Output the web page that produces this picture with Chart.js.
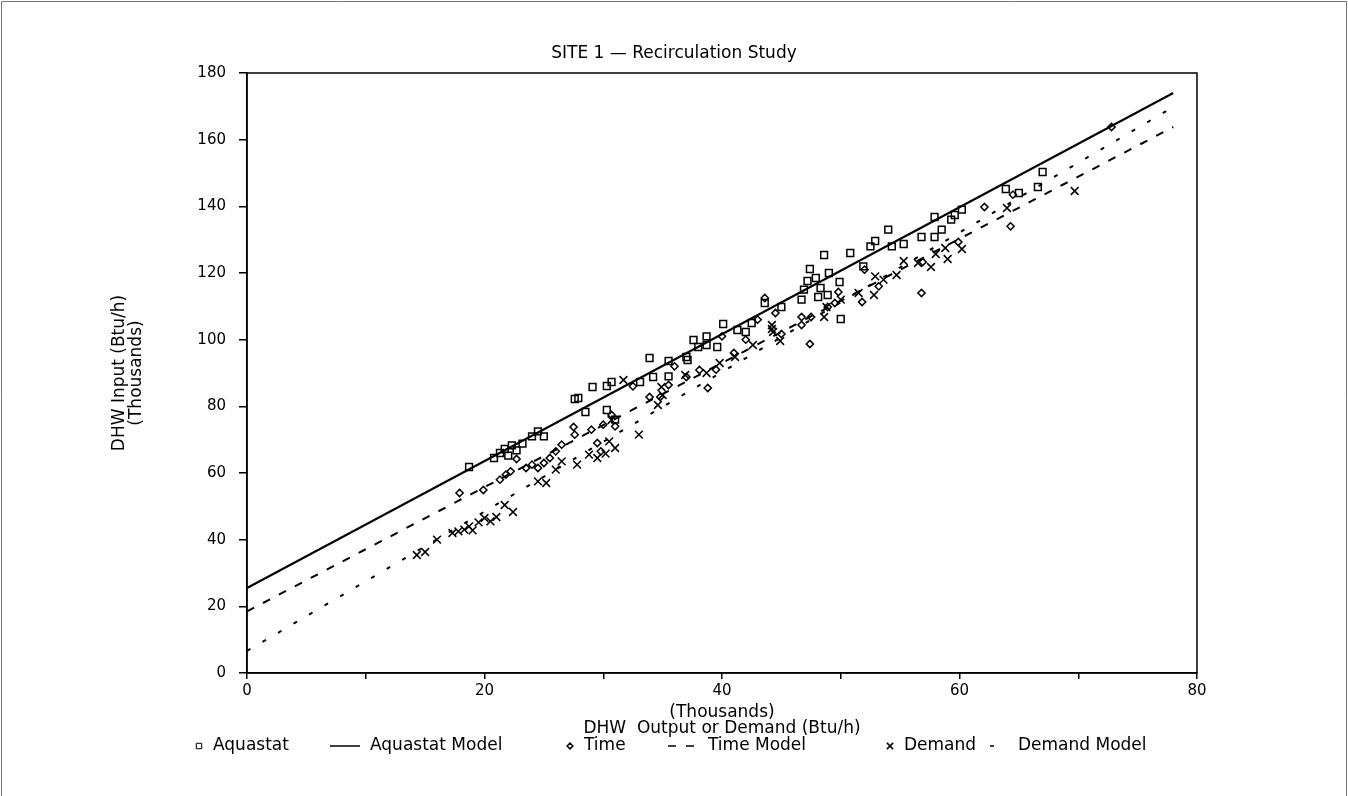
<!DOCTYPE html>
<html>
<head>
<meta charset="utf-8">
<script src="https://cdn.jsdelivr.net/npm/chart.js@4"></script>
<style>
  body { margin: 0; background: #fff; }
  #wrap { width: 1348px; height: 796px; }
</style>
</head>
<body>
<div id="wrap"><canvas id="site-chart" width="1348" height="796"></canvas></div>
<script>
// values, in thousands of Btu/h
const aquastatX = [18.7, 20.8, 21.3, 21.7, 22.0, 22.3, 22.7, 23.2, 24.0, 24.5, 25.0,
  27.6, 27.9, 29.1, 30.3, 30.7, 28.5, 30.3, 31.0,
  33.1, 33.9, 34.2, 35.5, 35.5, 37.0, 37.1, 37.6, 38.0, 38.7, 38.7, 39.6, 40.1, 41.3, 42.0, 42.5, 43.6, 45.0,
  46.7, 46.9, 47.2, 47.4, 47.9, 48.1, 48.3, 48.6, 48.9, 49.0, 49.9, 50.0,
  50.8, 51.9, 52.5, 52.9, 54.0, 54.3, 55.3, 56.8, 57.9, 57.9, 58.5, 59.3, 59.6, 60.2, 63.9, 65.0, 66.6, 67.0]
const aquastatY = [61.8, 64.5, 66.0, 67.2, 65.2, 68.3, 66.8, 68.8, 71.0, 72.5, 71.0,
  82.2, 82.5, 85.8, 86.1, 87.3, 78.3, 78.9, 76.0,
  87.3, 94.5, 88.8, 93.6, 89.0, 94.8, 93.9, 99.9, 97.8, 101.0, 98.4, 97.8, 104.7, 102.9, 102.3, 105.0, 111.0, 109.8,
  112.0, 115.0, 117.6, 121.2, 118.5, 112.8, 115.5, 125.4, 113.4, 120.0, 117.3, 106.2,
  126.0, 122.0, 128.0, 129.6, 133.0, 128.0, 128.7, 130.8, 130.8, 136.8, 133.0, 136.0, 137.4, 139.0, 145.2, 144.0, 145.8, 150.3]

const timeX = [17.9, 19.9, 21.3, 21.8, 22.2, 22.7, 23.5, 24.0, 24.5, 25.0, 25.5, 26.0, 26.5, 27.5, 27.6, 29.0, 29.5, 30.0, 30.7, 31.0, 29.8,
  32.5, 33.9, 34.8, 35.5, 36.0, 37.0, 38.1, 38.8, 39.5, 40.0, 41.0, 42.0, 43.0, 43.6, 44.5,
  45.0, 46.7, 46.7, 47.4, 47.5, 48.9, 49.5, 49.8, 51.8, 53.2, 52.0, 56.8, 56.9, 59.9, 62.1, 64.3, 64.5, 72.8]
const timeY = [54.0, 54.9, 58.0, 59.5, 60.5, 64.2, 61.5, 62.5, 61.5, 63.0, 64.5, 66.5, 68.5, 73.8, 71.5, 73.0, 69.0, 74.5, 77.4, 74.0, 66.5,
  86.0, 82.8, 82.8, 86.4, 92.0, 88.8, 90.9, 85.5, 91.0, 101.0, 96.0, 100.0, 106.0, 112.5, 108.0,
  101.7, 104.4, 106.8, 98.7, 106.8, 109.8, 111.0, 114.3, 111.3, 116.0, 121.0, 114.0, 123.3, 129.3, 139.8, 134.0, 143.5, 163.8]

const demandX = [14.3, 15.0, 16.0, 17.3, 17.8, 18.3, 18.7, 19.0, 19.5, 20.0, 20.5, 21.0, 21.7, 22.4,
  24.5, 25.2, 26.0, 26.5, 27.8, 28.8, 29.5, 30.2, 30.5, 31.0, 33.0, 30.7, 31.7, 34.6, 34.9, 35.0, 36.9, 38.7, 39.8, 41.1, 42.6, 44.2, 44.3, 44.9, 44.2,
  48.6, 48.8, 50.0, 51.5, 52.8, 52.9, 53.6, 54.7, 55.3, 56.5, 57.6, 58.0, 58.8, 59.0, 60.2, 64.0, 69.7]
const demandY = [35.4, 36.3, 40.0, 42.0, 42.5, 43.0, 44.0, 42.8, 45.2, 46.5, 45.5, 46.8, 50.4, 48.3,
  57.5, 57.0, 61.0, 63.5, 62.5, 65.5, 64.5, 65.8, 69.5, 67.5, 71.5, 75.9, 87.9, 80.4, 85.8, 83.4, 89.4, 90.0, 93.0, 94.8, 98.4, 104.4, 102.3, 99.6, 103.2,
  106.8, 109.8, 112.0, 114.0, 113.4, 119.0, 118.0, 119.4, 123.6, 123.0, 121.8, 125.7, 127.5, 124.2, 127.2, 139.5, 144.6]

// fitted model lines, end points
const modelX = [0, 78]
const aquastatModelY = [25.5, 174]
const timeModelY = [18.5, 163.8]
const demandModelY = [6.6, 169.8]

const xTicks = [0, 20, 40, 60, 80]
const yTicks = [0, 20, 40, 60, 80, 100, 120, 140, 160, 180]

const FONT = "'DejaVu Sans', sans-serif"

function toPoints(xs, ys) {
  return xs.map((x, i) => ({ x: x, y: ys[i] }))
}

// where each legend entry starts along the bottom row
const legendStarts = [195, 330, 566, 668, 886, 990]

// draws title, box round the plot, legend, and the page frame
const extrasPlugin = {
  id: 'extras',
  afterDraw(chart) {
    const ctx = chart.ctx
    const a = chart.chartArea
    ctx.save()
    ctx.strokeStyle = '#000'
    ctx.lineWidth = 1.5
    ctx.strokeRect(a.left, a.top, a.right - a.left, a.bottom - a.top)

    ctx.strokeStyle = '#777'
    ctx.lineWidth = 1
    ctx.beginPath()
    ctx.moveTo(1.5, chart.height)
    ctx.lineTo(1.5, 1.5)
    ctx.lineTo(chart.width - 1.5, 1.5)
    ctx.lineTo(chart.width - 1.5, chart.height)
    ctx.stroke()

    ctx.fillStyle = '#000'
    ctx.font = '17px ' + FONT
    ctx.textAlign = 'center'
    ctx.textBaseline = 'middle'
    ctx.fillText('SITE 1 \u2014 Recirculation Study', chart.width / 2, 54)

    // legend row
    const y = 746
    ctx.textAlign = 'left'
    chart.data.datasets.forEach((ds, i) => {
      let x = legendStarts[i]
      ctx.strokeStyle = '#000'
      if (ds.showLine) {
        ctx.lineWidth = 1.5
        ctx.setLineDash(ds.borderDash || [])
        const w = ds.borderDash && ds.borderDash[0] < 6 ? 6 : 30
        ctx.beginPath()
        ctx.moveTo(x, y)
        ctx.lineTo(x + w, y)
        ctx.stroke()
        ctx.setLineDash([])
        x += w + (w < 10 ? 22 : 10)
      } else {
        ctx.fillStyle = 'rgba(0,0,0,0)'
        Chart.helpers.drawPoint(ctx, {
          pointStyle: ds.pointStyle, radius: ds.pointRadius * 0.8, borderWidth: 1.2
        }, x + 4, y)
        x += 18
      }
      ctx.fillStyle = '#000'
      ctx.fillText(ds.label, x, y)
    })
    ctx.restore()
  }
}

const ctx = document.getElementById('site-chart')
const siteChart = new Chart(ctx, {
  type: 'scatter',
  data: {
    datasets: [
      {
        label: 'Aquastat',
        data: toPoints(aquastatX, aquastatY),
        pointStyle: 'rect',
        pointRadius: 4.8,
        borderColor: '#000',
        backgroundColor: 'rgba(0,0,0,0)',
        borderWidth: 1.5
      },
      {
        label: 'Aquastat Model',
        data: toPoints(modelX, aquastatModelY),
        showLine: true,
        pointRadius: 0,
        borderColor: '#000',
        borderWidth: 2
      },
      {
        label: 'Time',
        data: toPoints(timeX, timeY),
        pointStyle: 'rectRot',
        pointRadius: 3.6,
        borderColor: '#000',
        backgroundColor: 'rgba(0,0,0,0)',
        borderWidth: 1.5
      },
      {
        label: 'Time Model',
        data: toPoints(modelX, timeModelY),
        showLine: true,
        pointRadius: 0,
        borderColor: '#000',
        borderWidth: 2,
        borderDash: [8, 10]
      },
      {
        label: 'Demand',
        data: toPoints(demandX, demandY),
        pointStyle: 'crossRot',
        pointRadius: 5.5,
        borderColor: '#000',
        borderWidth: 1.5
      },
      {
        label: 'Demand Model',
        data: toPoints(modelX, demandModelY),
        showLine: true,
        pointRadius: 0,
        borderColor: '#000',
        borderWidth: 2,
        borderDash: [4, 14]
      }
    ]
  },
  options: {
    responsive: false,
    animation: false,
    layout: { padding: { left: 100, right: 151, top: 73, bottom: 59 } },
    scales: {
      x: {
        type: 'linear',
        min: 0,
        max: 80,
        afterFit(scale) { scale.height = 64 },
        afterBuildTicks(scale) {
          // minor ticks every 10, labels only every 20
          scale.ticks = [0, 10, 20, 30, 40, 50, 60, 70, 80].map(v => ({ value: v }))
        },
        grid: { drawOnChartArea: false, tickLength: 6, color: '#000', lineWidth: 1.5 },
        border: { color: '#000', width: 1.5 },
        ticks: {
          color: '#000',
          font: { family: FONT, size: 15 },
          padding: 3,
          maxRotation: 0,
          autoSkip: false,
          callback: v => xTicks.includes(v) ? String(v) : ''
        },
        title: {
          display: true,
          text: ['(Thousands)', 'DHW  Output or Demand (Btu/h)'],
          color: '#000',
          font: { family: FONT, size: 17, lineHeight: 0.95 },
          padding: { top: 0, bottom: 0 }
        }
      },
      y: {
        min: 0,
        max: 180,
        afterFit(scale) { scale.width = 147 },
        afterBuildTicks(scale) {
          scale.ticks = yTicks.map(v => ({ value: v }))
        },
        grid: { drawOnChartArea: false, tickLength: 8, color: '#000', lineWidth: 1.5 },
        border: { color: '#000', width: 1.5 },
        ticks: {
          color: '#000',
          font: { family: FONT, size: 15 },
          padding: 13
        },
        title: {
          display: true,
          text: ['DHW Input (Btu/h)', '(Thousands)'],
          color: '#000',
          font: { family: FONT, size: 17, lineHeight: 0.95 },
          padding: { top: 12, bottom: 0 }
        }
      }
    },
    plugins: {
      legend: { display: false },
      title: { display: false },
      tooltip: { enabled: false }
    }
  },
  plugins: [extrasPlugin]
})
</script>
</body>
</html>
